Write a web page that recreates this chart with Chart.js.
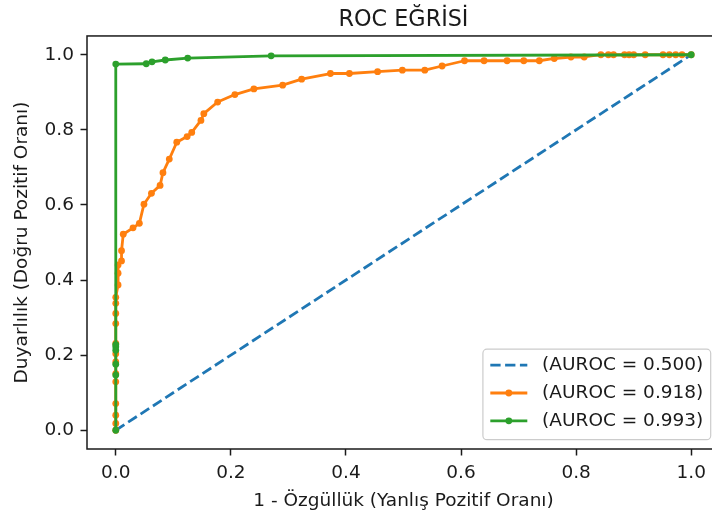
<!DOCTYPE html>
<html>
<head>
<meta charset="utf-8">
<script src="https://cdn.jsdelivr.net/npm/chart.js@4/dist/chart.umd.min.js"></script>
<style>
  html, body { margin: 0; padding: 0; background: #fff; overflow: hidden; }
  #wrap { width: 712px; height: 515px; overflow: hidden; position: relative; }
  canvas { display: block; }
</style>
</head>
<body>
<div id="wrap"><canvas id="roc" width="740" height="515" style="width:740px;height:515px"></canvas></div>
<script>
// Chance diagonal
const chanceFpr = [0, 1];
const chanceTpr = [0, 1];

// Model with AUROC 0.918
const modelAFpr = [0, 0, 0, 0, 0, 0, 0, 0, 0, 0, 0, 0, 0,
  0.004, 0.004, 0.004, 0.010, 0.010, 0.013, 0.030, 0.041, 0.049, 0.062, 0.077,
  0.082, 0.093, 0.106, 0.124, 0.132, 0.148, 0.153, 0.177, 0.207, 0.240, 0.290,
  0.323, 0.373, 0.406, 0.455, 0.498, 0.537, 0.567, 0.606, 0.640, 0.680, 0.709,
  0.736, 0.762, 0.791, 0.814, 0.843, 0.856, 0.865, 0.884, 0.892, 0.900, 0.920,
  0.951, 0.962, 0.973, 0.984, 1.0];
const modelATpr = [0, 0.018, 0.040, 0.071, 0.129, 0.151, 0.182, 0.204, 0.231, 0.284, 0.311, 0.338, 0.354,
  0.387, 0.418, 0.440, 0.451, 0.478, 0.522, 0.539, 0.551, 0.602, 0.631, 0.652,
  0.686, 0.722, 0.767, 0.782, 0.793, 0.825, 0.843, 0.874, 0.894, 0.909, 0.919,
  0.935, 0.950, 0.950, 0.955, 0.959, 0.959, 0.970, 0.984, 0.984, 0.984, 0.984,
  0.984, 0.990, 0.994, 0.994, 1.0, 1.0, 1.0, 1.0, 1.0, 1.0, 1.0,
  1.0, 1.0, 1.0, 1.0, 1.0];

// Model with AUROC 0.993
const modelBFpr = [0, 0, 0, 0, 0, 0, 0, 0.053, 0.063, 0.086, 0.125, 0.270, 1.0];
const modelBTpr = [0, 0.147, 0.176, 0.213, 0.222, 0.228, 0.975, 0.976, 0.981, 0.986, 0.991, 0.997, 1.0];

const seriesLabels = ['(AUROC = 0.500)', '(AUROC = 0.918)', '(AUROC = 0.993)'];
const tickValues = [0, 0.2, 0.4, 0.6, 0.8, 1.0];
const titleText = 'ROC EĞRİSİ';
const xTitleText = '1 - Özgüllük (Yanlış Pozitif Oranı)';
const yTitleText = 'Duyarlılık (Doğru Pozitif Oranı)';

const FONT = "'DejaVu Sans', sans-serif";
const INK = '#1a1a1a';

const toPoints = (xs, ys) => xs.map((x, i) => ({ x, y: ys[i] }));

// Full box around the plotting area
const frame = {
  id: 'frame',
  afterDatasetsDraw(chart) {
    const { ctx, chartArea: a } = chart;
    ctx.save();
    ctx.strokeStyle = INK;
    ctx.lineWidth = 1.5;
    ctx.strokeRect(a.left, a.top, a.right - a.left, a.bottom - a.top);
    ctx.restore();
  }
};

// Boxed legend in the lower-right corner of the plot
const boxLegend = {
  id: 'boxLegend',
  afterDraw(chart) {
    const { ctx, chartArea: a } = chart;
    const fs = 18.5;
    const borderPad = 7.4, handleLen = 37, textPad = 14.8, rowStep = 27.8;
    ctx.save();
    ctx.font = fs + 'px ' + FONT;
    const sets = chart.data.datasets;
    let textW = 0;
    sets.forEach(d => { textW = Math.max(textW, ctx.measureText(d.label).width); });
    const w = borderPad * 2 + handleLen + textPad + textW;
    const h = 90.5;
    const right = a.right - 9.3, bottom = a.bottom - 9.3;
    const left = right - w, top = bottom - h;
    ctx.beginPath();
    ctx.roundRect(left, top, w, h, 4);
    ctx.fillStyle = 'rgba(255,255,255,0.8)';
    ctx.fill();
    ctx.strokeStyle = '#cccccc';
    ctx.lineWidth = 1.2;
    ctx.stroke();
    sets.forEach((d, i) => {
      const y = top + 16 + i * rowStep;
      const x0 = left + borderPad;
      ctx.beginPath();
      ctx.setLineDash(d.borderDash || []);
      ctx.strokeStyle = d.borderColor;
      ctx.lineWidth = d.borderWidth;
      ctx.moveTo(x0, y);
      ctx.lineTo(x0 + handleLen, y);
      ctx.stroke();
      ctx.setLineDash([]);
      if (d.pointRadius > 0) {
        ctx.beginPath();
        ctx.arc(x0 + handleLen / 2, y, d.pointRadius, 0, Math.PI * 2);
        ctx.fillStyle = d.borderColor;
        ctx.fill();
      }
      ctx.fillStyle = INK;
      ctx.textBaseline = 'middle';
      ctx.textAlign = 'left';
      ctx.fillText(d.label, x0 + handleLen + textPad, y);
    });
    ctx.restore();
  }
};

const lineStyle = (color) => ({
  borderColor: color,
  backgroundColor: color,
  pointBackgroundColor: color,
  pointBorderWidth: 0,
  pointRadius: 3.4,
  pointHoverRadius: 3.4,
  borderWidth: 2.8,
  borderJoinStyle: 'round',
  tension: 0,
  fill: false
});

new Chart(document.getElementById('roc'), {
  type: 'line',
  data: {
    datasets: [
      Object.assign(lineStyle('#1f77b4'), {
        label: seriesLabels[0],
        data: toPoints(chanceFpr, chanceTpr),
        borderDash: [10.3, 4.5],
        pointRadius: 0,
        pointHoverRadius: 0,
        order: 3
      }),
      Object.assign(lineStyle('#ff7f0e'), {
        label: seriesLabels[1],
        data: toPoints(modelAFpr, modelATpr),
        order: 2
      }),
      Object.assign(lineStyle('#2ca02c'), {
        label: seriesLabels[2],
        data: toPoints(modelBFpr, modelBTpr),
        order: 1
      })
    ]
  },
  options: {
    responsive: false,
    animation: false,
    devicePixelRatio: 1,
    layout: { padding: { left: 0, top: 0, right: 20, bottom: 0 } },
    plugins: {
      legend: { display: false },
      tooltip: { enabled: false },
      title: {
        display: true,
        text: titleText,
        fullSize: false,
        color: INK,
        font: { family: FONT, size: 22.3, weight: 'normal', lineHeight: 1.2 },
        padding: { top: 6.6, bottom: 2.6 }
      }
    },
    scales: {
      x: {
        type: 'linear',
        min: -0.05,
        max: 1.05,
        afterBuildTicks: (s) => { s.ticks = tickValues.map(v => ({ value: v })); },
        afterFit: (s) => { s.height = 66; },
        border: { display: false },
        grid: { drawOnChartArea: false, drawTicks: true, tickLength: 6.5, tickWidth: 1.5, tickColor: INK },
        ticks: {
          autoSkip: false,
          maxRotation: 0,
          padding: 6.5,
          color: INK,
          font: { family: FONT, size: 18.5 },
          callback: (v) => Number(v).toFixed(1)
        },
        title: {
          display: true,
          text: xTitleText,
          color: INK,
          font: { family: FONT, size: 18.5, lineHeight: 1.2 },
          padding: { top: 0, bottom: 3 }
        }
      },
      y: {
        type: 'linear',
        min: -0.05,
        max: 1.05,
        afterBuildTicks: (s) => { s.ticks = tickValues.map(v => ({ value: v })); },
        afterFit: (s) => { s.width = 87; },
        border: { display: false },
        grid: { drawOnChartArea: false, drawTicks: true, tickLength: 6.5, tickWidth: 1.5, tickColor: INK },
        ticks: {
          autoSkip: false,
          padding: 6.5,
          color: INK,
          font: { family: FONT, size: 18.5 },
          callback: (v) => Number(v).toFixed(1)
        },
        title: {
          display: true,
          text: yTitleText,
          color: INK,
          font: { family: FONT, size: 18.5, lineHeight: 1.2 },
          padding: { top: 11.4, bottom: 0 }
        }
      }
    }
  },
  plugins: [frame, boxLegend]
});
</script>
</body>
</html>
